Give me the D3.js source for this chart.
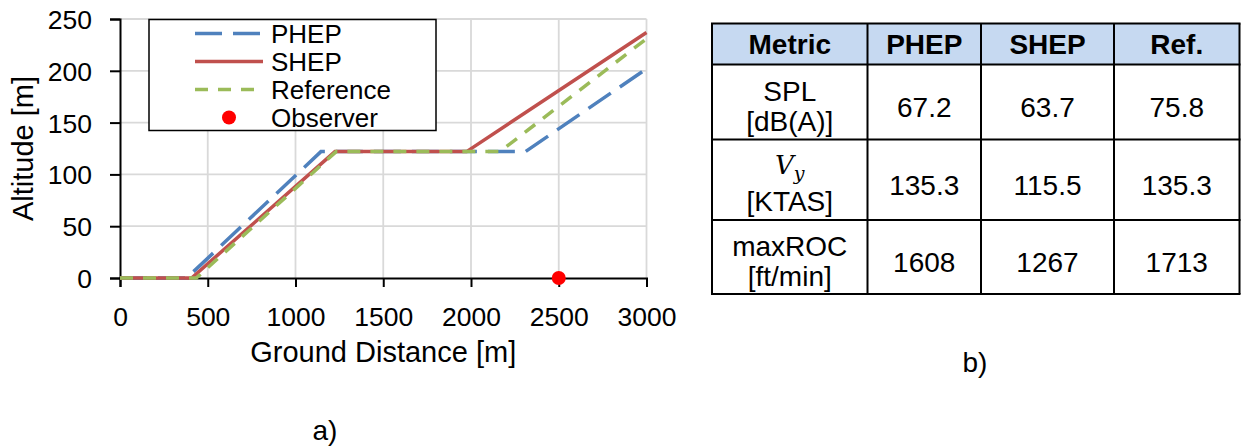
<!DOCTYPE html>
<html>
<head>
<meta charset="utf-8">
<script src="https://cdn.jsdelivr.net/npm/d3@7"></script>
<style>
    body { margin: 0; background: #fff; }
    svg { font-family: "Liberation Sans", Arial, sans-serif; }
    .grid line { stroke: #d9d9d9; stroke-width: 1.8; }
    .axis path, .axis line { stroke: #000; stroke-width: 2; }
    .axis text { font-size: 26.5px; fill: #000; }
    .axis-title { font-size: 29px; fill: #000; }
    .legend text { font-size: 26px; }
    .cell-text { font-size: 28px; fill: #000; }
</style>
</head>
<body>
<svg id="chart" width="1242" height="448"></svg>
<script>
// flight profiles: ground distance [m] / altitude [m]
const phepDist = [0, 380, 1145, 2310, 3000];
const phepAlt  = [0, 0, 122, 122, 202];
const shepDist = [0, 408, 1225, 1975, 3000];
const shepAlt  = [0, 0, 122, 122, 237];
const refDist  = [0, 435, 1232, 2165, 3000];
const refAlt   = [0, 0, 122, 122, 231];
const observerDist = [2500];
const observerAlt  = [0];

const xTicks = [0, 500, 1000, 1500, 2000, 2500, 3000];
const yTicks = [0, 50, 100, 150, 200, 250];

// table b)
const tableHeader = ['Metric', 'PHEP', 'SHEP', 'Ref.'];
const metricNames = ['SPL', 'Vy', 'maxROC'];
const metricUnits = ['[dB(A)]', '[KTAS]', '[ft/min]'];
const phepValues  = ['67.2', '135.3', '1608'];
const shepValues  = ['63.7', '115.5', '1267'];
const refValues   = ['75.8', '135.3', '1713'];

const svg = d3.select('#chart');

// ---------- a) altitude profile ----------
class ProfileChart {

    constructor(_config) {
        this.config = {
            left: _config.left,
            right: _config.right,
            top: _config.top,
            bottom: _config.bottom
        };
        this.series = [
            { name: 'PHEP', dist: phepDist, alt: phepAlt, color: '#4f81bd', dash: '27,11' },
            { name: 'SHEP', dist: shepDist, alt: shepAlt, color: '#c0504d', dash: null },
            { name: 'Reference', dist: refDist, alt: refAlt, color: '#9bbb59', dash: '13,10' }
        ];
        this.initVis();
        this.renderVis();
    }

    initVis() {
        let vis = this;
        let c = vis.config;

        vis.xScale = d3.scaleLinear()
            .domain([0, 3000])
            .range([c.left, c.right]);

        vis.yScale = d3.scaleLinear()
            .domain([0, 250])
            .range([c.bottom, c.top]);

        vis.chart = svg.append('g');

        // gridlines
        let grid = vis.chart.append('g').attr('class', 'grid');
        grid.selectAll('.vgrid')
            .data(xTicks.slice(1))
            .join('line')
                .attr('x1', d => vis.xScale(d))
                .attr('x2', d => vis.xScale(d))
                .attr('y1', c.top)
                .attr('y2', c.bottom);
        grid.selectAll('.hgrid')
            .data(yTicks.slice(1))
            .join('line')
                .attr('x1', c.left)
                .attr('x2', c.right)
                .attr('y1', d => vis.yScale(d))
                .attr('y2', d => vis.yScale(d));

        vis.xAxis = d3.axisBottom(vis.xScale)
            .tickValues(xTicks)
            .tickFormat(d3.format('d'))
            .tickSizeOuter(0)
            .tickSize(9)
            .tickPadding(20);

        vis.yAxis = d3.axisLeft(vis.yScale)
            .tickValues(yTicks)
            .tickFormat(d3.format('d'))
            .tickSizeOuter(0)
            .tickSize(10)
            .tickPadding(18);

        vis.xAxisGroup = vis.chart.append('g')
            .attr('class', 'axis x-axis')
            .attr('transform', `translate(0,${c.bottom})`);

        vis.yAxisGroup = vis.chart.append('g')
            .attr('class', 'axis y-axis')
            .attr('transform', `translate(${c.left},0)`);

        // axis titles
        vis.chart.append('text')
            .attr('class', 'axis-title')
            .attr('text-anchor', 'middle')
            .attr('x', (c.left + c.right) / 2)
            .attr('y', 362)
            .text('Ground Distance [m]');

        vis.chart.append('text')
            .attr('class', 'axis-title')
            .attr('text-anchor', 'middle')
            .attr('transform', `translate(33, ${(c.top + c.bottom) / 2}) rotate(-90)`)
            .text('Altitude [m]');
    }

    renderVis() {
        let vis = this;

        vis.xAxisGroup.call(vis.xAxis);
        vis.yAxisGroup.call(vis.yAxis);
        vis.xAxisGroup.selectAll('text').attr('dy', '0.72em');
        vis.yAxisGroup.selectAll('text').attr('dy', '0.36em');

        let line = d3.line()
            .x(d => vis.xScale(d[0]))
            .y(d => vis.yScale(d[1]));

        vis.chart.selectAll('.profile')
            .data(vis.series)
            .join('path')
                .attr('class', 'profile')
                .attr('fill', 'none')
                .attr('stroke', d => d.color)
                .attr('stroke-width', 3.5)
                .attr('stroke-dasharray', d => d.dash)
                .attr('d', d => line(d3.zip(d.dist, d.alt)));

        vis.chart.selectAll('.observer')
            .data(d3.zip(observerDist, observerAlt))
            .join('circle')
                .attr('class', 'observer')
                .attr('fill', '#ff0000')
                .attr('r', 7)
                .attr('cx', d => vis.xScale(d[0]))
                .attr('cy', d => vis.yScale(d[1]));

        // legend
        let legend = vis.chart.append('g').attr('class', 'legend');
        legend.append('rect')
            .attr('x', 149)
            .attr('y', 19.5)
            .attr('width', 287)
            .attr('height', 111)
            .attr('fill', '#fff')
            .attr('stroke', '#000')
            .attr('stroke-width', 1.5);

        let items = vis.series.concat([{ name: 'Observer', color: '#ff0000', marker: true }]);
        let rows = legend.selectAll('.item')
            .data(items)
            .join('g')
                .attr('class', 'item')
                .attr('transform', (d, i) => `translate(0, ${33.5 + i * 28})`);

        rows.filter(d => !d.marker).append('line')
            .attr('x1', 195)
            .attr('x2', 263)
            .attr('stroke', d => d.color)
            .attr('stroke-width', 3.5)
            .attr('stroke-dasharray', d => d.dash);

        rows.filter(d => d.marker).append('circle')
            .attr('cx', 229)
            .attr('r', 7)
            .attr('fill', d => d.color);

        rows.append('text')
            .attr('x', 271)
            .attr('dy', '0.36em')
            .text(d => d.name);

        vis.chart.append('text')
            .attr('class', 'cell-text')
            .attr('text-anchor', 'middle')
            .attr('x', 325)
            .attr('y', 440)
            .text('a)');
    }
}

new ProfileChart({ left: 120, right: 646.5, top: 19, bottom: 278 });

// ---------- b) metrics table ----------
const colEdges = [712, 867.5, 981, 1114, 1239.5];
const rowEdges = [23.5, 64.5, 139.5, 220, 294];

const table = svg.append('g').attr('class', 'table');
const colMid = i => (colEdges[i] + colEdges[i + 1]) / 2;
const rowMid = i => (rowEdges[i] + rowEdges[i + 1]) / 2;

table.append('rect')
    .attr('x', colEdges[0])
    .attr('y', rowEdges[0])
    .attr('width', colEdges[4] - colEdges[0])
    .attr('height', rowEdges[1] - rowEdges[0])
    .attr('fill', '#c6d9f1');

table.selectAll('.head')
    .data(tableHeader)
    .join('text')
        .attr('class', 'cell-text head')
        .attr('text-anchor', 'middle')
        .attr('font-weight', 'bold')
        .attr('x', (d, i) => colMid(i))
        .attr('y', rowMid(0))
        .attr('dy', '0.36em')
        .text(d => d);

// metric name + unit (two lines)
const nameCells = table.selectAll('.metric')
    .data(d3.zip(metricNames, metricUnits))
    .join('text')
        .attr('class', 'cell-text metric')
        .attr('text-anchor', 'middle')
        .attr('x', colMid(0))
        .attr('y', (d, i) => rowMid(i + 1) + (d[0] === 'Vy' ? -6 : -1));

nameCells.each(function(d) {
    let t = d3.select(this);
    if (d[0] === 'Vy') {
        let v = t.append('tspan')
            .attr('font-family', '"DejaVu Serif", "Liberation Serif", serif')
            .attr('font-style', 'italic');
        v.append('tspan').attr('font-size', '26px').text('V');
        v.append('tspan').attr('font-size', '19px').attr('dy', 6).text('y');
        t.append('tspan').attr('x', colMid(0)).attr('dy', 31).text(d[1]);
    } else {
        t.append('tspan').text(d[0]);
        t.append('tspan').attr('x', colMid(0)).attr('dy', 30).text(d[1]);
    }
});

const valueCols = [phepValues, shepValues, refValues];
valueCols.forEach((vals, ci) => {
    table.selectAll(`.val-${ci}`)
        .data(vals)
        .join('text')
            .attr('class', `cell-text val-${ci}`)
            .attr('text-anchor', 'middle')
            .attr('x', colMid(ci + 1))
            .attr('y', (d, i) => rowMid(i + 1) + 5)
            .attr('dy', '0.36em')
            .text(d => d);
});

// cell borders
table.selectAll('.hline')
    .data(rowEdges)
    .join('line')
        .attr('x1', colEdges[0] - 1)
        .attr('x2', colEdges[4] + 1)
        .attr('y1', d => d)
        .attr('y2', d => d)
        .attr('stroke', '#000')
        .attr('stroke-width', 2);

table.selectAll('.vline')
    .data(colEdges)
    .join('line')
        .attr('x1', d => d)
        .attr('x2', d => d)
        .attr('y1', rowEdges[0])
        .attr('y2', rowEdges[4])
        .attr('stroke', '#000')
        .attr('stroke-width', 2);

table.append('text')
    .attr('class', 'cell-text')
    .attr('text-anchor', 'middle')
    .attr('x', 975)
    .attr('y', 372)
    .text('b)');
</script>
</body>
</html>
